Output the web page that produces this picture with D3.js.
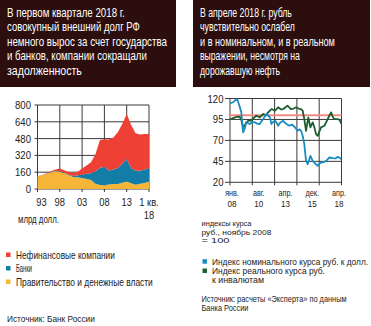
<!DOCTYPE html>
<html><head><meta charset="utf-8">
<script src="https://cdn.jsdelivr.net/npm/d3@7"></script>
<style>
html,body{margin:0;padding:0;background:#fff;}
svg{display:block;}
text{font-family:'Liberation Sans',Arial,sans-serif;}
</style></head><body>
<svg id="c" width="371" height="326"></svg>
<script>
// ---------- DATA ----------
const leftTitle = ["В первом квартале 2018 г.", "совокупный внешний долг РФ", "немного вырос за счет государства", "и банков, компании сокращали", "задолженность"];
const rightTitle = ["В апреле 2018 г. рубль", "чувствительно ослабел", "и в номинальном, и в реальном", "выражении, несмотря на", "дорожавшую нефть"];

const debtYears = [1993,1994,1995,1996,1997,1998,1999,2000,2001,2002,2003,2004,2005,2006,2007,2008,2009,2010,2011,2012,2013,2014,2015,2016,2017,2018];
const govDebt  = [118,130,145,160,170,165,150,130,115,112,105,95,85,50,38,36,42,48,48,60,72,55,40,50,58,72];
const bankDebt = [2,2,2,3,4,5,5,6,10,18,30,50,65,120,162,176,134,137,152,180,213,145,135,125,127,125];
const corpDebt = [2,2,3,7,11,25,23,26,30,35,60,80,105,160,266,263,296,305,340,380,430,410,355,343,340,328];
const debtSeriesNames = ["Правительство и денежные власти", "Банки", "Нефинансовые компании"];
const debtXTickYears = [1993,1998,2003,2008,2013,2018];
const debtXTickLabels = [["93"],["98"],["03"],["08"],["13"],["1 кв.","18"]];
const debtYTicks = [0,160,320,480,640,800];
const debtUnit = "млрд долл.";
const leftSource = "Источник: Банк России";

const nominalDates = [2008.0,2008.28,2008.5,2008.67,2008.85,2009.04,2009.2,2009.35,2009.5,2009.82,2010.05,2010.28,2010.5,2010.74,2010.9,2011.05,2011.35,2011.55,2011.67,2011.81,2011.95,2012.13,2012.3,2012.43,2012.6,2012.89,2013.05,2013.2,2013.45,2013.7,2013.95,2014.21,2014.4,2014.53,2014.68,2014.83,2014.99,2015.14,2015.39,2015.6,2015.8,2016.06,2016.2,2016.37,2016.6,2016.84,2017.14,2017.45,2017.7,2017.91,2018.1,2018.22];
const nominalIndex = [114,115.5,118,119,112,103.5,79.6,84,91.5,89.5,92,91.5,90,89.5,93,95.5,101.5,99,97.5,89.5,92,93.5,91,87.5,91,93.5,91,89.5,87.5,89,86,81.5,83,81.5,75.5,65.6,45.6,41.6,51.6,45.6,43,39.6,42,43.6,44,45.6,49.6,48.8,48.5,50.4,49,47.6];
const realDates = [2008.0,2008.28,2008.6,2008.9,2009.05,2009.2,2009.36,2009.5,2009.75,2009.97,2010.2,2010.43,2010.74,2011.05,2011.3,2011.51,2011.81,2012.13,2012.43,2012.7,2012.89,2013.05,2013.29,2013.6,2013.85,2014.07,2014.3,2014.53,2014.68,2014.83,2014.99,2015.2,2015.39,2015.6,2015.75,2015.91,2016.06,2016.37,2016.68,2016.98,2017.15,2017.3,2017.45,2017.6,2017.91,2018.1,2018.22];
const realIndex = [95,96.7,98,98.2,94,86,87.5,91.5,94,93.5,97,99.4,97.5,101.5,100,103.5,107.4,105.4,109.5,107,107.4,109,111.4,107.4,108,109.5,108,107.4,105.4,95.5,81.5,97.5,85.5,91.5,86,77.5,75.5,85.5,87.5,95.5,100,103.5,98,95.5,95.5,94,90];
const rateBase = 100;
const rateYTicks = [20,45,70,95,120];
const rateXDomain = [2008.0, 2018.25];
const rateXLabels = [["янв.","08"],["авг.","10"],["апр.","13"],["дек.","15"],["апр.","18"]];
const rateUnit = ["индексы курса", "руб., ноябрь 2008", "= 100"];
const rateSeriesNames = [["Индекс номинального курса руб. к долл."], ["Индекс реального курса руб.", "к инвалютам"]];
const rightSource = ["Источник: расчеты «Эксперта» по данным", "Банка России"];

// ---------- STYLE / LAYOUT ----------
const C = {box:"#2c0e0e", grid:"#3a3a3a", text:"#222", red:"#ef4035", blue:"#137da8", orange:"#f7b538",
           lineBlue:"#1a8cc0", lineGreen:"#1d5e32", base:"#f08a84"};
const W = {
  leftTitle:[118,133,160,140,75], rightTitle:[92,95,135,100,80],
  unit:41, legend:{corp:99, bank:16, gov:137}, leftSource:88,
  rateUnit:[50,70,28], rateLegend:[[156],[113,52]], rightSource:[145,47]
};
const svg = d3.select("#c");

// text drawn at natural width then squeezed horizontally by a transform
function txt(parent, x, y, s, size, o){
  o = o || {};
  const t = parent.append("text").attr("font-size",size).attr("fill",o.fill||C.text)
    .attr("text-anchor",o.anchor||"start").text(s);
  const w = t.node().getComputedTextLength();
  const sx = o.width ? o.width/w : (o.f||1);
  t.attr("transform",`translate(${x},${y}) scale(${sx.toFixed(4)},1)`);
  return t;
}

// ---------- HEADERS ----------
function header(x, w, lines, tx, widths){
  svg.append("rect").attr("x",x).attr("y",0).attr("width",w).attr("height",87).attr("fill",C.box);
  lines.forEach((s,i)=>txt(svg, tx, 16.5+i*14.6, s, 12, {fill:"#fff", width:widths[i]}));
}
header(0,176,leftTitle,7,W.leftTitle);
header(193,177,rightTitle,200,W.rightTitle);

// ---------- LEFT CHART ----------
const lx = d3.scaleLinear().domain([1993,2018]).range([37.5,149]);
const ly = d3.scaleLinear().domain([0,800]).range([189,105]);
const gL = svg.append("g");
gL.selectAll(null).data(debtYTicks).enter().append("line")
  .attr("x1",lx(1993)-3).attr("x2",lx(2018)).attr("y1",d=>ly(d)).attr("y2",d=>ly(d))
  .attr("stroke",C.grid).attr("stroke-width",1);
gL.selectAll(null).data(debtXTickYears).enter().append("line")
  .attr("x1",d=>lx(d)).attr("x2",d=>lx(d)).attr("y1",ly(800)).attr("y2",ly(0)+3)
  .attr("stroke",C.grid).attr("stroke-width",1);
const rows = debtYears.map((y,i)=>({year:y, gov:govDebt[i], bank:bankDebt[i], corp:corpDebt[i]}));
const stack = d3.stack().keys(["gov","bank","corp"])(rows);
const areaColors = {gov:C.orange, bank:C.blue, corp:C.red};
const area = d3.area().x(d=>lx(d.data.year)).y0(d=>ly(d[0])).y1(d=>ly(d[1]));
gL.selectAll(null).data(stack).enter().append("path")
  .attr("d",area).attr("fill",d=>areaColors[d.key]);
debtYTicks.forEach(v=>txt(gL, 31, ly(v)+4, String(v), 11, {anchor:"end", f:0.87}));
debtXTickYears.forEach((yr,i)=>{
  debtXTickLabels[i].forEach((s,j)=>txt(gL, lx(yr)+(i===0?4:0), 206+j*13, s, 11, {anchor:"middle", f:0.85}));
});
txt(svg, 18, 222.5, debtUnit, 10, {width:W.unit});
const legOrder = ["corp","bank","gov"];
const legNames = {corp:debtSeriesNames[2], bank:debtSeriesNames[1], gov:debtSeriesNames[0]};
legOrder.forEach((k,i)=>{
  const cy = 255 + i*13.5;
  svg.append("rect").attr("x",6).attr("y",cy-2.5).attr("width",4.5).attr("height",4.5).attr("fill",areaColors[k]);
  txt(svg, 16, cy+3.5, legNames[k], 10, {width:W.legend[k]});
});
txt(svg, 7, 322, leftSource, 9.5, {width:W.leftSource});

// ---------- RIGHT CHART ----------
const rx = d3.scaleLinear().domain(rateXDomain).range([230,341.5]);
const ry = d3.scaleLinear().domain([20,120]).range([182.3,98.5]);
const gR = svg.append("g");
gR.selectAll(null).data(rateYTicks).enter().append("line")
  .attr("x1",rx.range()[0]-5).attr("x2",rx.range()[1]).attr("y1",d=>ry(d)).attr("y2",d=>ry(d))
  .attr("stroke",C.grid).attr("stroke-width",1);
const gridX = d3.range(6).map(i=>rateXDomain[0]+i*(rateXDomain[1]-rateXDomain[0])/5);
gR.selectAll(null).data(gridX).enter().append("line")
  .attr("x1",d=>rx(d)).attr("x2",d=>rx(d)).attr("y1",ry(120)).attr("y2",ry(20)+3)
  .attr("stroke",C.grid).attr("stroke-width",1);
gR.append("line").attr("x1",rx.range()[0]).attr("x2",rx.range()[1]).attr("y1",ry(rateBase)).attr("y2",ry(rateBase))
  .attr("stroke",C.base).attr("stroke-width",2);
const line = d3.line().x(d=>rx(d[0])).y(d=>ry(d[1]));
gR.append("path").datum(realDates.map((d,i)=>[d,realIndex[i]])).attr("d",line)
  .attr("fill","none").attr("stroke",C.lineGreen).attr("stroke-width",1.8).attr("stroke-linejoin","round");
gR.append("path").datum(nominalDates.map((d,i)=>[d,nominalIndex[i]])).attr("d",line)
  .attr("fill","none").attr("stroke",C.lineBlue).attr("stroke-width",1.8).attr("stroke-linejoin","round");
rateYTicks.forEach(v=>txt(gR, 223.5, ry(v)+4, String(v), 11, {anchor:"end", f:0.87}));
const labX = d3.scalePoint().domain(d3.range(rateXLabels.length)).range([232,339]);
rateXLabels.forEach((lab,i)=>{
  lab.forEach((s,j)=>txt(gR, labX(i), j===0?195.6:206.5, s, j===0?8.5:9.5, {anchor:"middle", f:0.85}));
});
rateUnit.forEach((s,i)=>txt(svg, 201.5, 226+i*8.6, s, 8, {width:W.rateUnit[i]}));
const rLegColors = [C.lineBlue, C.lineGreen];
let ly0 = 261.7;
rateSeriesNames.forEach((lines,i)=>{
  svg.append("rect").attr("x",202.5).attr("y",ly0-2.5).attr("width",4.5).attr("height",4.5).attr("fill",rLegColors[i]);
  lines.forEach((s,j)=>txt(svg, 212, ly0+3+j*8.8, s, 8.2, {width:W.rateLegend[i][j]}));
  ly0 += 9.3;
});
rightSource.forEach((s,i)=>txt(svg, 201.5, 301.5+i*9, s, 8.2, {width:W.rightSource[i]}));
</script>
</body></html>
